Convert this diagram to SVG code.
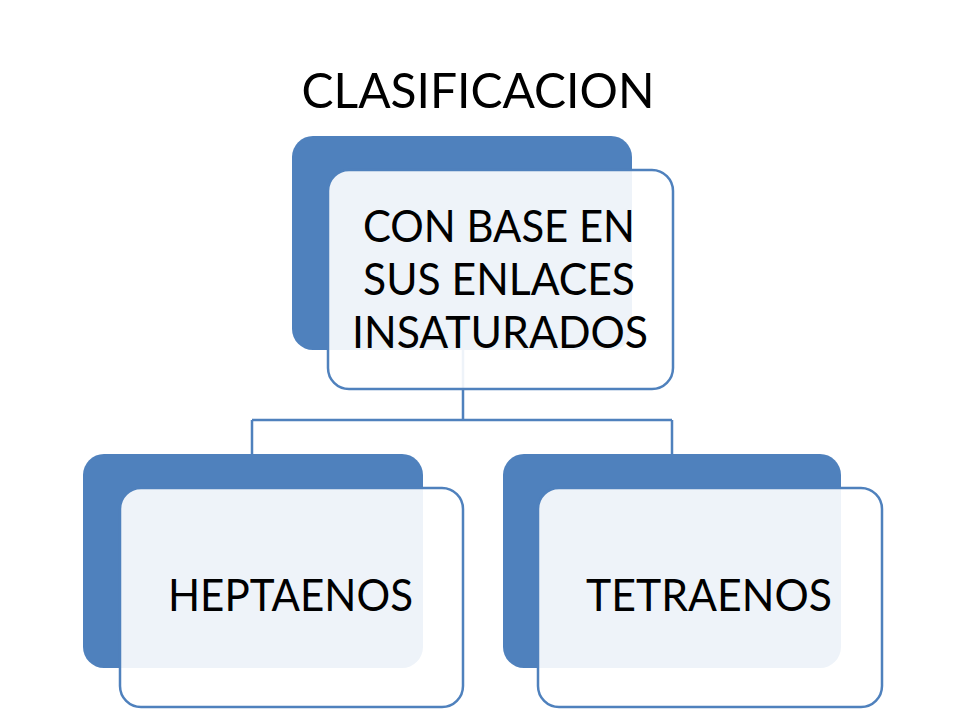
<svg xmlns="http://www.w3.org/2000/svg" width="960" height="720" viewBox="0 0 960 720">
<style>
.back{fill:#4F81BD;}
.front{fill:#FFFFFF;fill-opacity:0.9;stroke:#4F81BD;stroke-width:2.5;}
.conn{fill:none;stroke:#4F81BD;stroke-width:2.5;}
text{font-family:Lato,"Open Sans","Liberation Sans",sans-serif;fill:#000000;}
.lbl{font-size:44px;}
</style>
<rect width="960" height="720" fill="#FFFFFF"/>
<text id="title" x="478" y="108" font-size="49" text-anchor="middle" textLength="353" lengthAdjust="spacingAndGlyphs">CLASIFICACION</text>
<g id="connectors">
<path class="conn" d="M463 350 V420 M252 420 H672 M252 420 V454 M672 420 V454"/>
</g>
<g id="node-top">
<rect class="back" x="292" y="136" width="340" height="214" rx="21"/>
<rect class="front" x="328" y="170" width="345" height="219" rx="21"/>
<text class="lbl" x="499" y="242" text-anchor="middle" textLength="272" lengthAdjust="spacingAndGlyphs">CON BASE EN</text>
<text class="lbl" x="499" y="295" text-anchor="middle" textLength="272" lengthAdjust="spacingAndGlyphs">SUS ENLACES</text>
<text class="lbl" x="500" y="348" text-anchor="middle" textLength="296" lengthAdjust="spacingAndGlyphs">INSATURADOS</text>
</g>
<g id="node-heptaenos">
<rect class="back" x="83" y="454" width="340" height="214" rx="21"/>
<rect class="front" x="120" y="488" width="343" height="219" rx="21"/>
<text class="lbl" x="290.5" y="611" text-anchor="middle" textLength="245" lengthAdjust="spacingAndGlyphs">HEPTAENOS</text>
</g>
<g id="node-tetraenos">
<rect class="back" x="503" y="454" width="338" height="214" rx="21"/>
<rect class="front" x="538" y="488" width="344" height="219" rx="21"/>
<text class="lbl" x="709" y="611" text-anchor="middle" textLength="246" lengthAdjust="spacingAndGlyphs">TETRAENOS</text>
</g>
</svg>
